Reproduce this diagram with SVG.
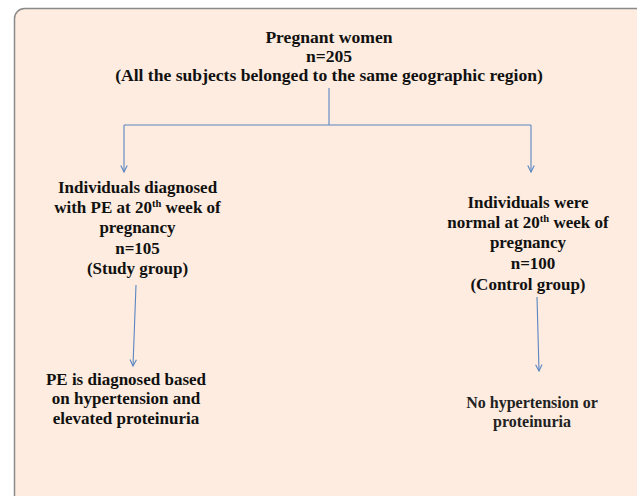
<svg xmlns="http://www.w3.org/2000/svg" width="637" height="496" viewBox="0 0 637 496">
<defs>
<style>
.t{font-family:"Liberation Serif","Times New Roman",serif;font-weight:bold;font-size:17px;fill:#111;text-anchor:middle}
.h{font-size:17.6px}
.s{font-size:16px;fill:#222}
.c{stroke:#5A86C2;stroke-width:1.1;fill:none}
</style>
<marker id="ah" viewBox="0 0 10 10" refX="9" refY="5" markerWidth="8" markerHeight="8" markerUnits="userSpaceOnUse" orient="auto">
<path d="M1,1 L9,5 L1,9" fill="none" stroke="#5A86C2" stroke-width="1.4"/>
</marker>
</defs>
<rect x="0" y="0" width="637" height="496" fill="#ffffff"/>
<rect id="panel" x="14.5" y="8.5" width="640" height="500" rx="10" fill="#FDECDF" stroke="#8a8a8a" stroke-width="1.5"/>
<g id="connectors">
<path class="c" d="M329,88 V125 M124,125 H531"/>
<path class="c" d="M124,125 V172" marker-end="url(#ah)"/>
<path class="c" d="M531,125 V172" marker-end="url(#ah)"/>
<path class="c" d="M136,285 L133,366" marker-end="url(#ah)"/>
<path class="c" d="M537,297 L539,371" marker-end="url(#ah)"/>
</g>
<g id="root">
<text class="t h" x="329" y="43">Pregnant women</text>
<text class="t h" x="329" y="62">n=205</text>
<text class="t h" x="329" y="81">(All the subjects belonged to the same geographic region)</text>
</g>
<g id="study">
<text class="t" x="137.5" y="193">Individuals diagnosed</text>
<text class="t" x="137.5" y="213">with PE at 20<tspan font-size="10.5" dy="-6">th</tspan><tspan dy="6"> week of</tspan></text>
<text class="t" x="137.5" y="233">pregnancy</text>
<text class="t" x="137.5" y="253.5">n=105</text>
<text class="t" x="137.5" y="274">(Study group)</text>
</g>
<g id="control">
<text class="t" x="528" y="208">Individuals were</text>
<text class="t" x="528" y="228">normal at 20<tspan font-size="10.5" dy="-6">th</tspan><tspan dy="6"> week of</tspan></text>
<text class="t" x="528" y="248">pregnancy</text>
<text class="t" x="533" y="268.5">n=100</text>
<text class="t" x="528" y="290">(Control group)</text>
</g>
<g id="pe">
<text class="t" x="126" y="384.5">PE is diagnosed based</text>
<text class="t" x="126" y="404">on hypertension and</text>
<text class="t" x="126" y="424">elevated proteinuria</text>
</g>
<g id="normal">
<text class="t s" x="532" y="408">No hypertension or</text>
<text class="t s" x="532" y="426.5">proteinuria</text>
</g>
</svg>
